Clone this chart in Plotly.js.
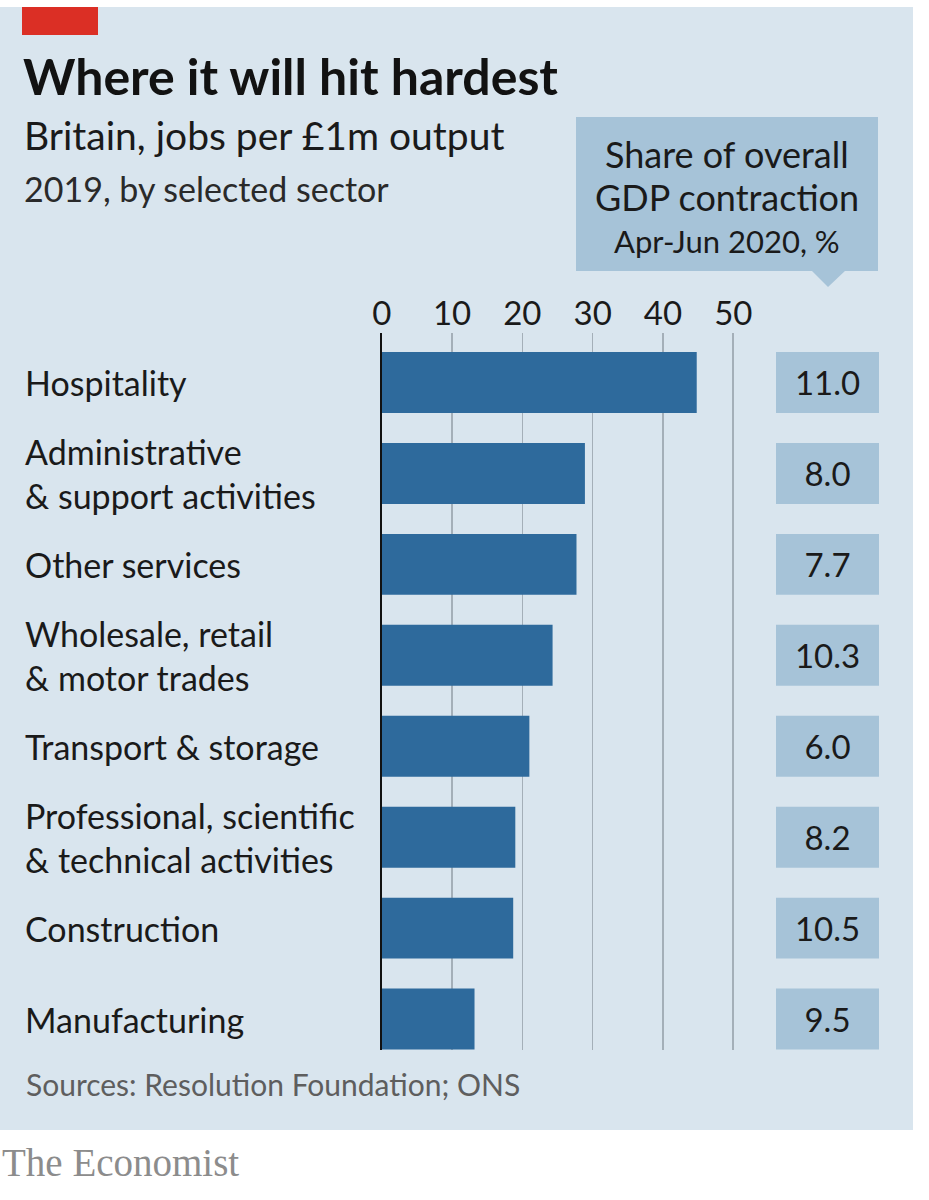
<!DOCTYPE html>
<html>
<head>
<meta charset="utf-8">
<script src="https://cdn.plot.ly/plotly-3.0.1.min.js"></script>
<style>html,body{margin:0;padding:0;background:#fff;}#chart{width:929px;height:1200px;}</style>
</head>
<body>
<div id="chart"></div>
<script>
// ---- data ----
const sectors = [
  "Hospitality",
  "Administrative<br>& support activities",
  "Other services",
  "Wholesale, retail<br>& motor trades",
  "Transport & storage",
  "Professional, scientific<br>& technical activities",
  "Construction",
  "Manufacturing"
];
const jobsPerMillion = [44.8, 28.9, 27.7, 24.3, 21.0, 19.0, 18.7, 13.2];
const gdpShare = [11.0, 8.0, 7.7, 10.3, 6.0, 8.2, 10.5, 9.5];
const xTicks = [0, 10, 20, 30, 40, 50];

// ---- layout helpers (pixel -> paper) ----
const W = 929, H = 1200;
const px = x => x / W;
const py = y => 1 - y / H;

const FONT = "Lato, 'Open Sans', sans-serif";
const BG = "#d9e5ee";
const BOX = "#a6c3d8";
const BAR = "#2e6a9c";

const unit = 7.032; // px per unit on x axis
const x0px = 381.7;
const xMax = 51;

const traces = [
  {
    type: "bar",
    orientation: "h",
    y: sectors,
    x: jobsPerMillion,
    xaxis: "x",
    yaxis: "y",
    marker: {color: BAR, line: {width: 0}},
    hoverinfo: "skip",
    width: 0.67
  },
  {
    type: "bar",
    orientation: "h",
    y: sectors,
    x: sectors.map(() => 1),
    xaxis: "x2",
    yaxis: "y",
    marker: {color: BOX, line: {width: 0}},
    text: gdpShare.map(v => v.toFixed(1)),
    textposition: "inside",
    insidetextanchor: "middle",
    textfont: {family: FONT, size: 33, color: "#1a1a1a"},
    hoverinfo: "skip",
    width: 0.67
  }
];

const annotations = [];
function txt(text, x, y, size, color, opts) {
  annotations.push(Object.assign({
    text: text, xref: "paper", yref: "paper", x: px(x), y: py(y),
    xanchor: "left", yanchor: "middle", showarrow: false,
    font: {family: FONT, size: size, color: color}
  }, opts || {}));
}
txt("<b>Where it will hit hardest</b>", 21, 76, 50, "#121212");
txt("Britain, jobs per £1m output", 22, 135, 39, "#1a1a1a");
txt("2019, by selected sector", 22, 188, 34, "#2a2a2a");
txt("Share of overall", 727, 154, 36, "#1a1a1a", {xanchor: "center"});
txt("GDP contraction", 727, 197, 36, "#1a1a1a", {xanchor: "center"});
txt("Apr-Jun 2020, %", 727, 241, 31, "#1a1a1a", {xanchor: "center"});
txt("Sources: Resolution Foundation; ONS", 24, 1084, 30, "#5e5e5e");
txt("The Economist", 0, 1162, 39, "#8c8c8c", {font: {family: "'Liberation Serif', serif", size: 39, color: "#8c8c8c"}});

// category labels on the left, placed on the category axis
sectors.forEach(s => {
  annotations.push({
    text: s, xref: "paper", yref: "y", x: px(23), y: s,
    xanchor: "left", yanchor: "middle", align: "left", showarrow: false,
    font: {family: FONT, size: 34, color: "#1a1a1a"}
  });
});

const shapes = [
  {type: "rect", xref: "paper", yref: "paper", x0: px(0), x1: px(913), y0: py(7), y1: py(1130),
   fillcolor: BG, line: {width: 0}, layer: "below"},
  {type: "rect", xref: "paper", yref: "paper", x0: px(22), x1: px(98), y0: py(7), y1: py(35),
   fillcolor: "#db2f25", line: {width: 0}, layer: "below"},
  {type: "rect", xref: "paper", yref: "paper", x0: px(576), x1: px(878), y0: py(117), y1: py(271),
   fillcolor: BOX, line: {width: 0}, layer: "below"},
  {type: "path", xref: "paper", yref: "paper",
   path: `M ${px(811)},${py(270)} L ${px(846)},${py(270)} L ${px(828)},${py(287)} Z`,
   fillcolor: BOX, line: {width: 0}, layer: "below"}
];

const layout = {
  width: W, height: H,
  margin: {l: 0, r: 0, t: 0, b: 0},
  paper_bgcolor: "#ffffff",
  plot_bgcolor: "rgba(0,0,0,0)",
  showlegend: false,
  barmode: "overlay",
  xaxis: {
    domain: [px(x0px), px(x0px + unit * xMax)],
    range: [0, xMax],
    side: "top",
    tickvals: xTicks,
    ticktext: xTicks.map(String),
    ticks: "",
    tickfont: {family: FONT, size: 33, color: "#1a1a1a"},
    showgrid: true, gridcolor: "#a4afb8", gridwidth: 1.6,
    zeroline: false, showline: false, fixedrange: true
  },
  xaxis2: {
    domain: [px(776), px(879)],
    range: [0, 1],
    anchor: "y",
    visible: false, fixedrange: true
  },
  yaxis: {
    domain: [py(1050), py(333)],
    range: [7.34, -0.544],
    type: "category",
    categoryorder: "array",
    categoryarray: sectors,
    showticklabels: false,
    ticks: "",
    showgrid: false,
    zeroline: false,
    showline: true, linecolor: "#111111", linewidth: 2,
    fixedrange: true
  },
  annotations: annotations,
  shapes: shapes
};

Plotly.newPlot("chart", traces, layout, {displayModeBar: false, staticPlot: true});
</script>
</body>
</html>
